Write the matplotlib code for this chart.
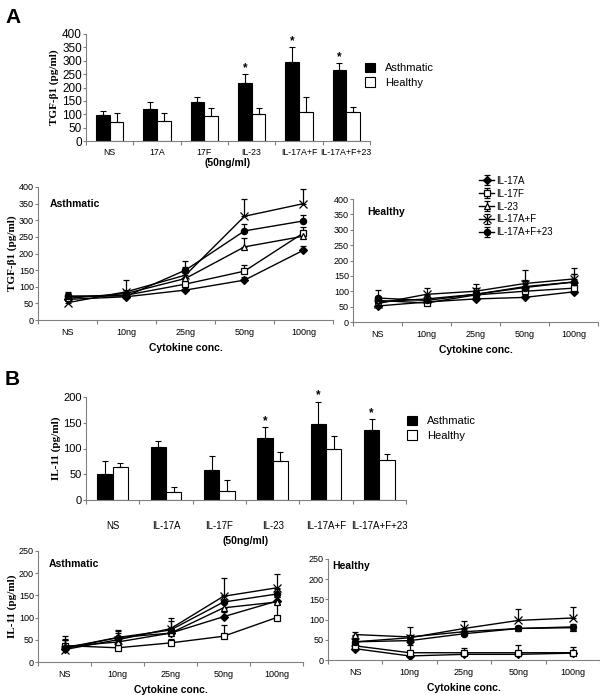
import numpy as np
import matplotlib.pyplot as plt

# bar panels (50ng/ml)
bar_cats_a = ['NS', '17A', '17F', 'IL-23', 'IL-17A+F', 'IL-17A+F+23']
tgf_asth = [97, 120, 145, 217, 297, 267]
tgf_asth_err = [17, 25, 20, 33, 55, 25]
tgf_heal = [70, 75, 93, 100, 110, 108]
tgf_heal_err = [35, 30, 32, 25, 55, 20]

bar_cats_b = ['NS', 'IL-17A', 'IL-17F', 'IL-23', 'IL-17A+F', 'IL-17A+F+23']
il11_asth = [50, 103, 58, 121, 148, 135]
il11_asth_err = [25, 12, 27, 20, 43, 22]
il11_heal = [65, 15, 18, 76, 100, 78]
il11_heal_err = [6, 10, 20, 17, 25, 12]

stars = [False, False, False, True, True, True]

# dose response panels
conc = ['NS', '10ng', '25ng', '50ng', '100ng']
series = ['IL-17A', 'IL-17F', 'IL-23', 'IL-17A+F', 'IL-17A+F+23']

tgf_asth_lines = [[62, 70, 90, 120, 210],
                  [70, 75, 108, 147, 262],
                  [65, 80, 125, 220, 252],
                  [52, 85, 135, 312, 350],
                  [72, 72, 150, 268, 298]]
tgf_asth_lerr = [[10, 8, 8, 8, 12],
                 [10, 10, 10, 18, 18],
                 [10, 10, 15, 28, 15],
                 [15, 35, 25, 52, 45],
                 [12, 10, 27, 22, 18]]

tgf_heal_lines = [[52, 65, 75, 80, 98],
                  [70, 62, 88, 100, 110],
                  [65, 75, 90, 115, 130],
                  [60, 90, 100, 125, 140],
                  [78, 70, 90, 112, 130]]
tgf_heal_lerr = [[10, 8, 8, 8, 8],
                 [12, 10, 12, 15, 15],
                 [12, 12, 15, 20, 25],
                 [25, 20, 22, 45, 35],
                 [25, 15, 20, 20, 25]]

il11_asth_lines = [[30, 55, 65, 102, 137],
                   [37, 32, 43, 58, 100],
                   [35, 45, 65, 122, 135],
                   [28, 50, 75, 148, 167],
                   [32, 55, 72, 135, 153]]
il11_asth_lerr = [[10, 10, 10, 10, 10],
                  [12, 8, 8, 25, 30],
                  [15, 12, 12, 15, 12],
                  [30, 20, 25, 42, 32],
                  [20, 18, 20, 15, 12]]

il11_heal_lines = [[28, 10, 14, 14, 17],
                   [35, 18, 18, 18, 18],
                   [63, 57, 70, 78, 80],
                   [45, 55, 78, 98, 104],
                   [45, 48, 65, 78, 82]]
il11_heal_lerr = [[6, 6, 5, 5, 6],
                  [8, 18, 12, 19, 14],
                  [6, 6, 6, 6, 6],
                  [15, 27, 19, 28, 26],
                  [6, 6, 8, 6, 6]]

markers = ['D', 's', '^', 'x', 'o']
faces = ['black', 'white', 'white', 'black', 'black']

SANS = ['Liberation Sans', 'DejaVu Sans']
SERIF = ['Liberation Serif', 'DejaVu Serif']
plt.rcParams['font.family'] = SANS

W, H = 600, 695
fig = plt.figure(figsize=(W / 100, H / 100), dpi=100)


def px_axes(x0, x1, ytop, ybot):
    return fig.add_axes([x0 / W, 1 - ybot / H, (x1 - x0) / W, (ybot - ytop) / H])


def style(ax, n, labels, tsize):
    for s in ['top', 'right']:
        ax.spines[s].set_visible(False)
    for s in ['left', 'bottom']:
        ax.spines[s].set_color('#808080')
        ax.spines[s].set_linewidth(0.8)
    ax.set_xlim(0, n)
    ax.set_xticks(np.arange(n + 1))
    ax.set_xticklabels([])
    ax.set_xticks(np.arange(n) + 0.5, minor=True)
    ax.set_xticklabels(labels, minor=True, fontsize=tsize)
    ax.tick_params(axis='x', which='major', length=3, color='#808080')
    ax.tick_params(axis='x', which='minor', length=0)
    ax.tick_params(axis='y', length=2, color='#808080', pad=1)


def bar_panel(ax, cats, asth, asth_err, heal, heal_err, ymax, ystep, ylab,
              ytsize, xtsize, xpad, lpad):
    x = np.arange(len(cats)) + 0.5
    w = 0.29
    zeros = np.zeros(len(cats))
    ax.bar(x - w / 2, asth, w, color='black', edgecolor='black', linewidth=0.8,
           label='Asthmatic')
    ax.bar(x + w / 2, heal, w, color='white', edgecolor='black', linewidth=0.8,
           label='Healthy')
    ax.errorbar(x - w / 2, asth, yerr=[zeros, asth_err], fmt='none', ecolor='black',
                elinewidth=0.8, capsize=2.5, capthick=0.8)
    ax.errorbar(x + w / 2, heal, yerr=[zeros, heal_err], fmt='none', ecolor='black',
                elinewidth=0.8, capsize=2.5, capthick=0.8)
    for xi, a, e, s in zip(x, asth, asth_err, stars):
        if s:
            ax.text(xi - w / 2, a + e, '*', ha='center', va='bottom', fontsize=8.5,
                    fontweight='bold')
    style(ax, len(cats), cats, xtsize)
    ax.tick_params(axis='x', which='minor', pad=xpad)
    ax.set_ylim(0, ymax)
    ax.set_yticks(np.arange(0, ymax + 1, ystep))
    ax.tick_params(axis='y', labelsize=ytsize)
    ax.set_ylabel(ylab, family=SERIF, fontweight='bold', fontsize=8, labelpad=2)
    ax.set_xlabel('(50ng/ml)', fontweight='bold', fontsize=7.5, labelpad=lpad)


def line_panel(ax, data, errs, ymax, ystep, title, tx, ty, ylab=None):
    x = np.arange(len(conc)) + 0.5
    for vals, e, m, fc, name in zip(data, errs, markers, faces, series):
        ax.errorbar(x, vals, yerr=[np.zeros(len(vals)), e], color='black', lw=1,
                    marker=m, ms=4.5 if m != 'x' else 5.5, mfc=fc, mec='black', mew=0.9,
                    elinewidth=0.9, capsize=2.5, capthick=0.9, label=name)
    style(ax, len(conc), conc, 6.5)
    ax.tick_params(axis='x', which='minor', pad=6)
    ax.set_ylim(0, ymax)
    ax.set_yticks(np.arange(0, ymax + 1, ystep))
    ax.tick_params(axis='y', labelsize=6.5)
    ax.set_xlabel('Cytokine conc.', fontweight='bold', fontsize=7.5, labelpad=4)
    ax.text(tx, ty, title, transform=ax.transAxes, fontweight='bold', fontsize=7.5)
    if ylab:
        ax.set_ylabel(ylab, family=SERIF, fontweight='bold', fontsize=8, labelpad=1)


# ---- panel A ----
ax1 = px_axes(86, 370, 34, 141)
bar_panel(ax1, bar_cats_a, tgf_asth, tgf_asth_err, tgf_heal, tgf_heal_err,
          400, 50, 'TGF-β1 (pg/ml)', 8.5, 6.3, 5, 1)
ax1.legend(loc='upper left', bbox_to_anchor=(355 / W, 1 - 53 / H),
           bbox_transform=fig.transFigure, frameon=False, fontsize=8,
           handlelength=0.9, handleheight=0.9, handletextpad=0.9, labelspacing=0.35)

ax2 = px_axes(38, 333, 187, 320)
line_panel(ax2, tgf_asth_lines, tgf_asth_lerr, 400, 50, 'Asthmatic', 0.04, 0.85,
           'TGF-β1 (pg/ml)')

ax3 = px_axes(353, 598, 199, 322)
line_panel(ax3, tgf_heal_lines, tgf_heal_lerr, 400, 50, 'Healthy', 0.06, 0.87)
h, l = ax3.get_legend_handles_labels()
fig.legend(h, l, loc='upper left', bbox_to_anchor=(470 / W, 1 - 167 / H),
           frameon=False, fontsize=7, handlelength=1.6, handletextpad=0.2,
           labelspacing=0.3)

# ---- panel B ----
ax4 = px_axes(86, 406, 397, 500)
bar_panel(ax4, bar_cats_b, il11_asth, il11_asth_err, il11_heal, il11_heal_err,
          200, 50, 'IL-11 (pg/ml)', 8, 7, 15, 4)
ax4.legend(loc='upper left', bbox_to_anchor=(397 / W, 1 - 406 / H),
           bbox_transform=fig.transFigure, frameon=False, fontsize=8,
           handlelength=0.9, handleheight=0.9, handletextpad=0.9, labelspacing=0.35)

ax5 = px_axes(38, 303, 551, 662)
line_panel(ax5, il11_asth_lines, il11_asth_lerr, 250, 50, 'Asthmatic', 0.04, 0.86,
           'IL-11 (pg/ml)')

ax6 = px_axes(328, 600, 559, 660)
line_panel(ax6, il11_heal_lines, il11_heal_lerr, 250, 50, 'Healthy', 0.015, 0.9)

fig.text(5 / W, 1 - 8 / H, 'A', fontsize=15, fontweight='bold', va='top')
fig.text(5 / W, 1 - 370 / H, 'B', fontsize=15, fontweight='bold', va='top')

fig.savefig('out.png', dpi=100)
